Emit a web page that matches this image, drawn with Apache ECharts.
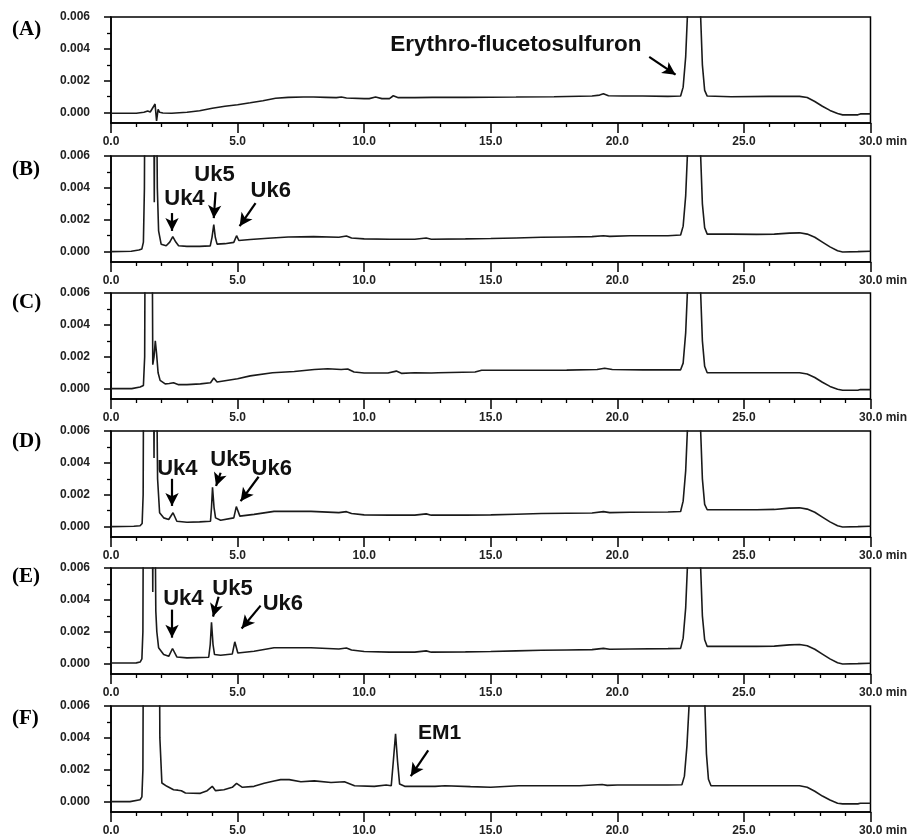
<!DOCTYPE html>
<html>
<head>
<meta charset="utf-8">
<script src="https://cdn.jsdelivr.net/npm/echarts@6/dist/echarts.min.js"></script>
<style>
html, body { margin: 0; padding: 0; background: #fff; }
#main { width: 910px; height: 837px; }
</style>
</head>
<body>
<div id="main"></div>
<script>
// chromatogram traces, [time (min), absorbance]
// values over 0.006 are off scale and get clipped at the top of each box
var traceA = [[0,-0.00004],[1.0,-0.00004],[1.3,0.00002],[1.45,0.0001],[1.55,0.00004],[1.62,0.0001],[1.74,0.00054],[1.8,-0.00052],[1.86,0.0002],[1.92,0.00002],[2.05,-0.00002],[2.4,-0.00004],[3.0,0.00002],[3.5,0.00012],[4.0,0.00027],[4.5,0.0004],[5.0,0.0005],[5.5,0.00062],[6.0,0.00075],[6.5,0.0009],[7.0,0.00096],[7.6,0.00098],[8.0,0.00098],[8.5,0.00096],[8.9,0.00094],[9.1,0.00098],[9.3,0.00092],[10.0,0.00088],[10.2,0.00088],[10.45,0.00098],[10.7,0.00088],[11.0,0.00088],[11.15,0.00106],[11.35,0.00094],[12.0,0.00094],[12.7,0.00096],[14,0.00096],[16,0.00098],[17.5,0.001],[19.0,0.00104],[19.3,0.0011],[19.45,0.00118],[19.65,0.00106],[20.2,0.00104],[21.0,0.00104],[22.0,0.00102],[22.5,0.00104],[22.6,0.0016],[22.7,0.0035],[22.78,0.0065],[22.9,0.02],[23.15,0.02],[23.28,0.0065],[23.36,0.003],[23.45,0.0014],[23.55,0.00104],[24.5,0.001],[26.0,0.00102],[27.2,0.00102],[27.5,0.00095],[27.8,0.0007],[28.1,0.0004],[28.4,0.00014],[28.7,-0.00006],[28.9,-0.00014],[29.5,-0.00014],[29.6,-0.00008],[30,-0.00008]];

var traceB = [[0,0],[0.8,0.00002],[1.1,0.0001],[1.22,0.00017],[1.28,0.0006],[1.32,0.004],[1.36,0.02],[1.66,0.02],[1.71,0.0031],[1.75,0.02],[1.79,0.02],[1.83,0.004],[1.88,0.0013],[1.98,0.00047],[2.18,0.00037],[2.32,0.0006],[2.44,0.00094],[2.56,0.0006],[2.67,0.00037],[3.0,0.00033],[3.5,0.00033],[3.92,0.00036],[3.99,0.0009],[4.06,0.0017],[4.12,0.0009],[4.19,0.00047],[4.5,0.0005],[4.85,0.00058],[4.96,0.001],[5.05,0.0007],[5.5,0.00076],[6.2,0.00084],[7.0,0.00092],[8.0,0.00094],[9.0,0.0009],[9.3,0.00098],[9.5,0.00086],[10.0,0.0008],[11.0,0.00078],[12.0,0.00078],[12.45,0.00086],[12.65,0.00078],[14.0,0.0008],[15.0,0.00082],[16.0,0.00086],[17.0,0.0009],[18.0,0.00092],[19.0,0.00094],[19.45,0.001],[19.7,0.00096],[20.5,0.001],[22.0,0.001],[22.5,0.00104],[22.6,0.0016],[22.7,0.0035],[22.78,0.0065],[22.9,0.02],[23.15,0.02],[23.28,0.0065],[23.36,0.003],[23.45,0.0015],[23.55,0.0011],[24.5,0.0011],[25.5,0.00108],[26.2,0.0011],[26.8,0.00116],[27.2,0.00118],[27.5,0.0011],[27.8,0.0009],[28.1,0.0006],[28.4,0.0003],[28.7,0.00006],[28.9,-0.00002],[29.5,0],[30,0.00002]];

var traceC = [[0,0],[0.82,0],[1.15,0.0001],[1.28,0.0002],[1.33,0.002],[1.37,0.02],[1.6,0.02],[1.65,0.0015],[1.7,0.002],[1.75,0.003],[1.8,0.0022],[1.86,0.001],[1.94,0.00052],[2.14,0.0003],[2.3,0.00032],[2.47,0.00037],[2.67,0.00025],[3.0,0.00025],[3.53,0.0003],[3.93,0.00037],[4.06,0.00067],[4.19,0.00042],[5.0,0.00062],[5.5,0.0008],[6.38,0.001],[7.24,0.00108],[8.03,0.0012],[8.56,0.00125],[9.09,0.0012],[9.35,0.00123],[9.6,0.00104],[10.0,0.00098],[10.94,0.00098],[11.27,0.0011],[11.47,0.00096],[12.0,0.001],[12.66,0.00098],[12.92,0.001],[14.38,0.00104],[14.64,0.00115],[16.1,0.00115],[18.0,0.00116],[19.2,0.0012],[19.5,0.00128],[19.8,0.0012],[21.0,0.00118],[22.5,0.00118],[22.6,0.0016],[22.7,0.0035],[22.78,0.0065],[22.9,0.02],[23.15,0.02],[23.28,0.0065],[23.36,0.003],[23.45,0.0014],[23.55,0.001],[25,0.001],[27.2,0.001],[27.5,0.00092],[27.8,0.0007],[28.1,0.0004],[28.4,0.00014],[28.7,-0.00004],[28.9,-0.0001],[29.5,-0.0001],[29.6,-0.00006],[30,-0.00006]];

var traceD = [[0,0],[0.9,0.00002],[1.15,0.00006],[1.23,0.0002],[1.27,0.002],[1.31,0.02],[1.64,0.02],[1.7,0.0043],[1.74,0.02],[1.78,0.02],[1.84,0.003],[1.92,0.00087],[2.08,0.00055],[2.28,0.00045],[2.45,0.00087],[2.6,0.00034],[3.0,0.00028],[3.5,0.0003],[3.93,0.00034],[3.97,0.0012],[4.01,0.00247],[4.07,0.0012],[4.13,0.00055],[4.33,0.0004],[4.85,0.00055],[4.95,0.00126],[5.09,0.00066],[5.65,0.00077],[6.44,0.00096],[7.9,0.00096],[9.0,0.00088],[9.3,0.00094],[9.5,0.00082],[10.0,0.00074],[11,0.00072],[12,0.00072],[12.45,0.0008],[12.65,0.00072],[14,0.00072],[15,0.00074],[16,0.00078],[17,0.00082],[18,0.00084],[19,0.00086],[19.45,0.00094],[19.7,0.00088],[20.5,0.0009],[22.0,0.00092],[22.5,0.00095],[22.6,0.0016],[22.7,0.0035],[22.78,0.0065],[22.9,0.02],[23.15,0.02],[23.28,0.0065],[23.36,0.003],[23.45,0.0014],[23.55,0.00106],[24.5,0.00106],[25.5,0.00106],[26.2,0.00108],[26.8,0.00116],[27.2,0.00118],[27.5,0.0011],[27.8,0.0009],[28.1,0.0006],[28.4,0.0003],[28.7,0.00006],[28.9,-0.00002],[29.5,0],[30,0.00002]];

var traceE = [[0,0.00004],[1.0,0.00005],[1.15,0.0001],[1.22,0.0003],[1.26,0.002],[1.3,0.02],[1.6,0.02],[1.65,0.0045],[1.69,0.02],[1.73,0.02],[1.77,0.0033],[1.81,0.002],[1.88,0.001],[2.08,0.00057],[2.28,0.00046],[2.43,0.00095],[2.6,0.00042],[3.0,0.00036],[3.86,0.0004],[3.92,0.0012],[3.97,0.0026],[4.03,0.0012],[4.09,0.00057],[4.33,0.00053],[4.79,0.0006],[4.89,0.00137],[5.01,0.00067],[5.65,0.00078],[6.44,0.001],[7.9,0.001],[9.0,0.00092],[9.3,0.00098],[9.5,0.00086],[10.0,0.00076],[11,0.00072],[12,0.00072],[12.45,0.0008],[12.65,0.00072],[14,0.00074],[15,0.00076],[16,0.0008],[17,0.00084],[18,0.00086],[19,0.00088],[19.45,0.00096],[19.7,0.0009],[20.5,0.00092],[22.0,0.00094],[22.5,0.00096],[22.6,0.0016],[22.7,0.0035],[22.78,0.0065],[22.9,0.02],[23.15,0.02],[23.28,0.0065],[23.36,0.003],[23.45,0.0015],[23.55,0.00108],[24.5,0.00108],[25.5,0.00108],[26.2,0.0011],[26.8,0.00118],[27.2,0.0012],[27.5,0.00112],[27.8,0.0009],[28.1,0.0006],[28.4,0.0003],[28.7,0.00006],[28.9,-0.00002],[29.5,0],[30,0.00002]];

var traceF = [[0,0],[0.75,0],[0.82,0.0001],[1.15,0.00012],[1.22,0.0003],[1.26,0.002],[1.3,0.02],[1.88,0.02],[1.93,0.004],[2.01,0.00117],[2.21,0.00096],[2.47,0.00075],[2.64,0.00072],[2.7,0.0008],[2.78,0.00068],[2.94,0.00054],[3.53,0.00052],[3.8,0.00069],[4.0,0.00096],[4.13,0.00069],[4.46,0.00075],[4.79,0.0009],[4.96,0.00115],[5.19,0.0009],[5.65,0.00096],[6.05,0.00115],[6.44,0.0013],[6.7,0.00138],[7.04,0.00138],[7.5,0.00125],[8.03,0.0013],[8.69,0.0012],[9.22,0.00125],[9.62,0.001],[10.4,0.00096],[10.87,0.00104],[11.07,0.001],[11.15,0.0025],[11.24,0.00425],[11.32,0.0025],[11.4,0.0011],[11.6,0.00096],[12.8,0.00096],[13.2,0.001],[14.2,0.00094],[15.0,0.0009],[16.1,0.001],[17,0.001],[18.5,0.001],[19.4,0.00108],[19.6,0.00102],[20,0.00104],[21,0.00104],[22,0.00104],[22.55,0.00106],[22.65,0.0016],[22.75,0.0035],[22.85,0.0065],[22.97,0.02],[23.3,0.02],[23.45,0.0065],[23.52,0.003],[23.6,0.0014],[23.7,0.001],[25,0.001],[27.2,0.001],[27.5,0.0009],[27.8,0.00065],[28.1,0.00035],[28.4,0.0001],[28.7,-0.0001],[28.9,-0.00014],[29.5,-0.00014],[29.6,-0.0001],[30,-0.0001]];

var panelNames = ['(A)', '(B)', '(C)', '(D)', '(E)', '(F)'];
var yMajorTicks = [0, 0.002, 0.004, 0.006];
var yMinorTicks = [0.001, 0.003, 0.005];

// peak labels: text position and arrow (from -> to), in data units
var notesA = [{ text: 'Erythro-flucetosulfuron', at: [15.99, 0.00423], from: [21.26, 0.0035], to: [22.3, 0.00238] }];
var notesB = [
    { text: 'Uk4', at: [2.90, 0.00329], from: [2.41, 0.00242], to: [2.41, 0.0013] },
    { text: 'Uk5', at: [4.09, 0.0048], from: [4.13, 0.00373], to: [4.06, 0.0021] },
    { text: 'Uk6', at: [6.31, 0.00379], from: [5.71, 0.00304], to: [5.08, 0.0016] }
];
var notesC = [];
var notesD = [
    { text: 'Uk4', at: [2.62, 0.00363], from: [2.41, 0.003], to: [2.41, 0.0013] },
    { text: 'Uk5', at: [4.72, 0.00419], from: [4.33, 0.00338], to: [4.15, 0.00255] },
    { text: 'Uk6', at: [6.35, 0.00363], from: [5.83, 0.00313], to: [5.12, 0.0016] }
];
var notesE = [
    { text: 'Uk4', at: [2.86, 0.00408], from: [2.41, 0.00339], to: [2.41, 0.00163] },
    { text: 'Uk5', at: [4.80, 0.0047], from: [4.25, 0.0042], to: [4.03, 0.00295] },
    { text: 'Uk6', at: [6.79, 0.00377], from: [5.91, 0.00364], to: [5.16, 0.0022] }
];
var notesF = [{ text: 'EM1', at: [12.98, 0.00428], from: [12.53, 0.00322], to: [11.84, 0.0016] }];

var traces = [traceA, traceB, traceC, traceD, traceE, traceF];
var notes = [notesA, notesB, notesC, notesD, notesE, notesF];

var tops = [17, 156, 293, 431, 568, 706];
var labelY = [30, 170, 303, 442, 577, 719];
var yMin = -0.00065, yMax = 0.006;

var chart = echarts.init(document.getElementById('main'));
var sans = '"Liberation Sans", Arial, sans-serif';

var grids = [], xAxes = [], yAxes = [], series = [], graphics = [];
for (var i = 0; i < 6; i++) {
    grids.push({
        left: 111, right: 39, top: tops[i], height: 106,
        show: true, borderColor: '#000', borderWidth: 1.5, backgroundColor: 'transparent'
    });
    xAxes.push({
        type: 'value', gridIndex: i, min: 0, max: 30, interval: 5,
        axisLine: { onZero: false, lineStyle: { color: '#000', width: 1.5 } },
        axisTick: { length: 10, lineStyle: { color: '#000', width: 1.5 } },
        minorTick: { show: true, splitNumber: 5, length: 4, lineStyle: { color: '#000', width: 1.3 } },
        splitLine: { show: false },
        axisLabel: {
            margin: 13, color: '#222', fontSize: 12, fontWeight: 'bold', fontFamily: sans,
            formatter: function (v) {
                return v === 30 ? '{p|}30.0 min' : v.toFixed(1);
            },
            rich: { p: { width: 25 } }
        }
    });
    yAxes.push({
        type: 'value', gridIndex: i, min: yMin, max: yMax, position: 'left',
        axisLine: { show: true, onZero: false, lineStyle: { color: '#000', width: 1.5 } },
        axisTick: { show: true, customValues: yMajorTicks, length: 7, lineStyle: { color: '#000', width: 1.5 } },
        splitLine: { show: false },
        axisLabel: {
            customValues: yMajorTicks, margin: 21, color: '#222', fontSize: 12, fontWeight: 'bold', fontFamily: sans,
            formatter: function (v) { return v.toFixed(3); }
        }
    });
    // second axis only for the short ticks between labels
    yAxes.push({
        type: 'value', gridIndex: i, min: yMin, max: yMax, position: 'left',
        axisLine: { show: false },
        axisTick: { show: true, customValues: yMinorTicks, length: 4, lineStyle: { color: '#000', width: 1.3 } },
        axisLabel: { show: false },
        splitLine: { show: false }
    });

    var n = notes[i];
    series.push({
        type: 'line', xAxisIndex: i, yAxisIndex: i * 2,
        data: traces[i], showSymbol: false, symbol: 'none', clip: true,
        lineStyle: { color: '#1a1a1a', width: 1.6 },
        markLine: {
            silent: true, symbol: ['none', 'arrow'], symbolSize: [10, 13],
            lineStyle: { color: '#000', width: 2.2, type: 'solid' },
            label: { show: false },
            data: n.map(function (d) { return [{ coord: d.from }, { coord: d.to }]; })
        },
        markPoint: {
            silent: true, symbol: 'circle', symbolSize: 1,
            itemStyle: { color: 'rgba(0,0,0,0)' },
            label: {
                show: true, position: 'inside', color: '#111',
                fontSize: 22, fontWeight: 'bold', fontFamily: sans,
                formatter: function (p) { return p.name; }
            },
            data: n.map(function (d) {
                var lab = d.text === 'EM1' ? { fontSize: 21 } : (d.text.length > 5 ? { fontSize: 22.5 } : {});
                return { name: d.text, coord: d.at, label: lab };
            })
        }
    });

    graphics.push({
        type: 'text', left: 12, top: labelY[i] - 11,
        style: { text: panelNames[i], font: 'bold 21px "Liberation Serif", "Times New Roman", serif', fill: '#000' }
    });
}

chart.setOption({
    animation: false,
    backgroundColor: '#fff',
    grid: grids,
    xAxis: xAxes,
    yAxis: yAxes,
    series: series,
    graphic: graphics
});
</script>
</body>
</html>
